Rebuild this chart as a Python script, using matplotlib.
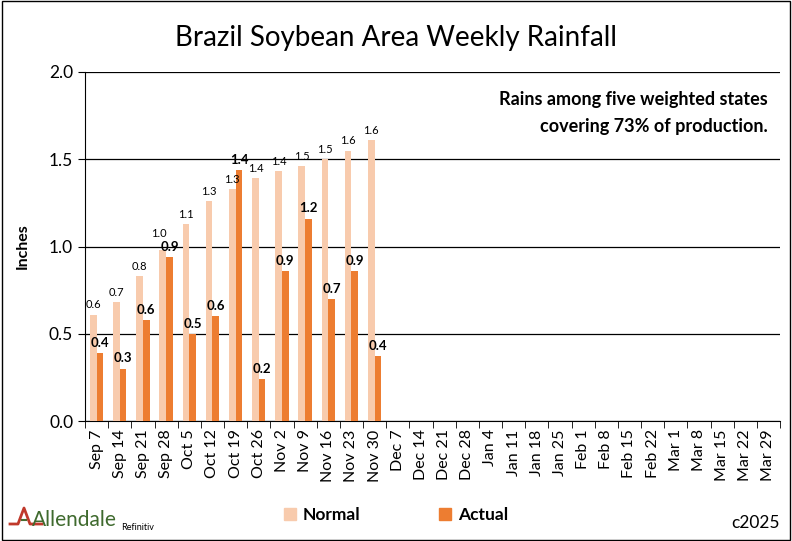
import matplotlib.pyplot as plt
import matplotlib.patches as mpatches
from matplotlib.lines import Line2D
import numpy as np

plt.rcParams['font.family'] = ['Lato', 'DejaVu Sans']

weeks = ['Sep 7', 'Sep 14', 'Sep 21', 'Sep 28', 'Oct 5', 'Oct 12', 'Oct 19', 'Oct 26',
         'Nov 2', 'Nov 9', 'Nov 16', 'Nov 23', 'Nov 30', 'Dec 7', 'Dec 14', 'Dec 21',
         'Dec 28', 'Jan 4', 'Jan 11', 'Jan 18', 'Jan 25', 'Feb 1', 'Feb 8', 'Feb 15',
         'Feb 22', 'Mar 1', 'Mar 8', 'Mar 15', 'Mar 22', 'Mar 29']
normal = [0.61, 0.68, 0.83, 0.98, 1.13, 1.26, 1.33, 1.39, 1.43, 1.46, 1.50, 1.55, 1.61]
actual = [0.39, 0.30, 0.58, 0.94, 0.50, 0.60, 1.44, 0.24, 0.86, 1.16, 0.70, 0.86, 0.37]

c_normal = '#F8CBAD'
c_actual = '#ED7D31'

fig = plt.figure(figsize=(7.92, 5.41), dpi=100)
ax = fig.add_axes([85 / 792, 120 / 541, 695 / 792, 349 / 541])

x = np.arange(len(weeks))
w = 0.29
xn = x[:len(normal)] - w / 2
xa = x[:len(actual)] + w / 2
ax.bar(xn, normal, w, color=c_normal, zorder=3)
ax.bar(xa, actual, w, color=c_actual, zorder=3)

for i, (xi, v) in enumerate(zip(xn, normal)):
    # normal label sits over the actual one when the bars are close in height
    dy = 8 if abs(v - actual[i]) < 0.06 else 3
    dx = -3 if abs(v - actual[i]) < 0.06 else 0
    ax.annotate(f'{v:.1f}', (xi, v), xytext=(dx, dy), textcoords='offset points',
                ha='center', va='bottom', fontsize=8, zorder=4)
for xi, v in zip(xa, actual):
    ax.annotate(f'{v:.1f}', (xi, v), xytext=(0, 3), textcoords='offset points',
                ha='center', va='bottom', fontsize=9.5, fontweight='bold', zorder=4)

ax.set_xlim(-0.5, len(weeks) - 0.5)
ax.set_ylim(0, 2.0)
ax.set_yticks([0, 0.5, 1.0, 1.5, 2.0])
ax.set_yticklabels(['0.0', '0.5', '1.0', '1.5', '2.0'], fontsize=12.5)
ax.yaxis.grid(True, color='black', lw=0.9, zorder=0)
ax.set_xticks(x)
ax.set_xticklabels(weeks, rotation=90, fontsize=11.5)
ax.set_xticks(np.arange(-0.5, len(weeks), 1), minor=True)
ax.tick_params(axis='x', which='major', length=0, pad=6)
ax.tick_params(axis='x', which='minor', length=5, color='black')
ax.tick_params(axis='y', length=5, color='black')
for s in ['top', 'right']:
    ax.spines[s].set_visible(False)
ax.spines['left'].set_color('black')
ax.spines['bottom'].set_color('black')
ax.set_ylabel('Inches', fontsize=11.5, fontweight='bold', labelpad=14)

fig.text(0.5, 1 - 38 / 541, 'Brazil Soybean Area Weekly Rainfall', ha='center', va='center',
         fontsize=20)
fig.text(768 / 792, 1 - 100 / 541, 'Rains among five weighted states', ha='right',
         va='center', fontsize=13, fontweight='bold')
fig.text(768 / 792, 1 - 126 / 541, 'covering 73% of production.', ha='right',
         va='center', fontsize=13, fontweight='bold')

handles = [mpatches.Patch(color=c_normal, label='Normal'),
           mpatches.Patch(color=c_actual, label='Actual')]
fig.legend(handles=handles, loc='center', bbox_to_anchor=(0.5, 1 - 515 / 541), ncol=2,
           frameon=False, prop={'weight': 'bold', 'size': 12.5}, columnspacing=4.5,
           handlelength=0.7, handleheight=0.7, handletextpad=0.4)

# logo
fig.lines.append(Line2D([10 / 792, 18 / 792, 24 / 792, 30 / 792, 42 / 792],
                        [1 - 524 / 541, 1 - 524 / 541, 1 - 508 / 541, 1 - 524 / 541, 1 - 524 / 541],
                        transform=fig.transFigure, color='#c0392b', lw=2))
fig.lines.append(Line2D([22 / 792, 26 / 792], [1 - 520 / 541, 1 - 520 / 541],
                        transform=fig.transFigure, color='#4a6b2f', lw=1.5))
fig.text(32 / 792, 1 - 520 / 541, 'Allendale', ha='left', va='center', fontsize=15,
         color='#3f6a2e')
fig.text(121 / 792, 1 - 527 / 541, 'Refinitiv', ha='left', va='center', fontsize=6.5)
fig.text(780 / 792, 1 - 523 / 541, 'c2025', ha='right', va='center', fontsize=12.5)

fig.patches.append(mpatches.Rectangle((0.002, 0.002), 0.996, 0.996, transform=fig.transFigure,
                                      fill=False, edgecolor='black', lw=1))

fig.savefig('out.png', dpi=100)
